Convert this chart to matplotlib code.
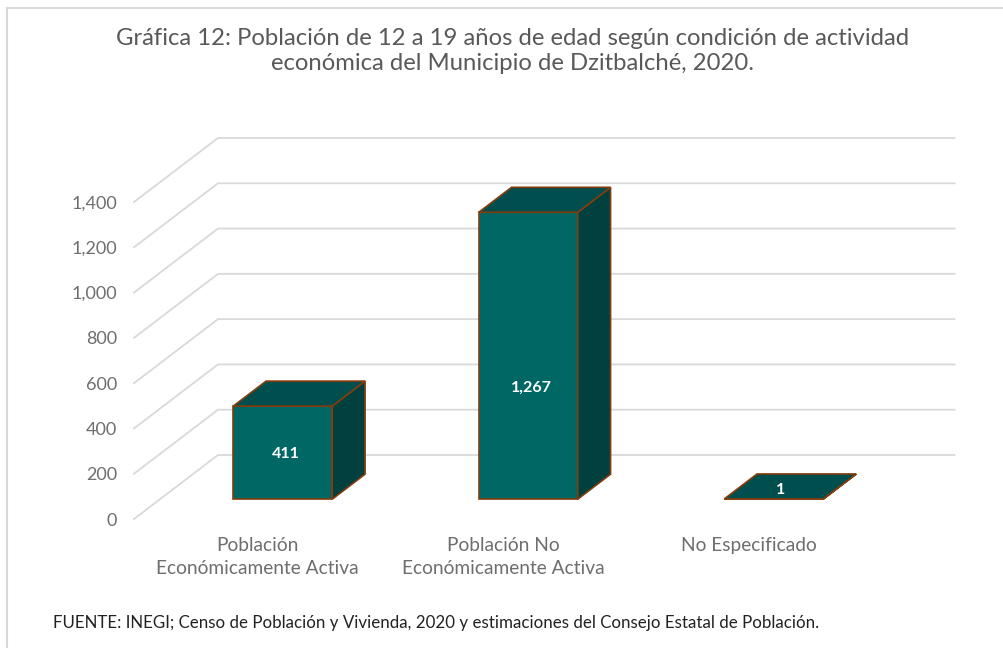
import matplotlib
matplotlib.use('Agg')
import matplotlib.pyplot as plt
from matplotlib.lines import Line2D
from matplotlib.patches import Polygon

plt.rcParams['font.family'] = ['Lato', 'DejaVu Sans']

# Data
categories = ['Población\nEconómicamente Activa', 'Población No\nEconómicamente Activa', 'No Especificado']
values = [411, 1267, 1]
value_labels = ['411', '1,267', '1']
yticks = [0, 200, 400, 600, 800, 1000, 1200, 1400]
ytick_labels = ['0', '200', '400', '600', '800', '1,000', '1,200', '1,400']
title = 'Gráfica 12: Población de 12 a 19 años de edad según condición de actividad\neconómica del Municipio de Dzitbalché, 2020.'
source = 'FUENTE: INEGI; Censo de Población y Vivienda, 2020 y estimaciones del Consejo Estatal de Población.'

W, H = 1004, 648
FRONT = '#006764'
TOP = '#004f4e'
SIDE = '#00403f'
EDGE = '#843c0c'
GRID = '#d9d9d9'
TEXT = '#595959'
TEXT_LIGHT = '#6e6e6e'

# 3d look: depth goes to the right and up
DEPTH_X = 84 / 245.5  # category units
DEPTH_Y = 64 / 0.2264  # value units
BAR_WIDTH = 99 / 245.5
D0, D1 = 0.31, 0.70
LABEL_HEIGHT = [0.48, 0.387, 0]  # where the label sits on each bar


def proj(x, v, d):
    return x + d * DEPTH_X, v + d * DEPTH_Y


def face(ax, pts, color):
    ax.add_patch(Polygon(pts, closed=True, facecolor=color, edgecolor=EDGE,
                         linewidth=1.2, clip_on=False, joinstyle='miter', zorder=3))


fig = plt.figure(figsize=(W / 100, H / 100), dpi=100)
ax = fig.add_axes([134 / W, 1 - 519 / H, 736.5 / W, 317 / H])
ax.set_xlim(0, 3)
ax.set_ylim(0, 1400)
ax.axis('off')

# frame only shows on the top and left
fig.add_artist(Line2D([7.5 / W, 7.5 / W, 1], [0, 1 - 7.5 / H, 1 - 7.5 / H], transform=fig.transFigure,
                      color=GRID, lw=1.5, solid_joinstyle='miter'))

# wall and floor grid
for t, lab in zip(yticks, ytick_labels):
    bx, by = proj(0, t, 1)
    ex, ey = proj(3, t, 1)
    ax.plot([0, bx, ex], [t, by, ey], color=GRID, lw=1.3, clip_on=False, zorder=1,
            solid_joinstyle='miter')
    ax.annotate(lab, (0, t), xytext=(-17, -1.5), textcoords='offset pixels', ha='right', va='center',
                fontsize=13, color=TEXT_LIGHT, annotation_clip=False)

for i, (v, lab) in enumerate(zip(values, value_labels)):
    x0 = i + 0.5 - BAR_WIDTH / 2
    x1 = i + 0.5 + BAR_WIDTH / 2
    a = proj(x0, 0, D0)
    b = proj(x1, 0, D0)
    c = proj(x1, v, D0)
    d = proj(x0, v, D0)
    b2 = proj(x1, 0, D1)
    c2 = proj(x1, v, D1)
    d2 = proj(x0, v, D1)
    face(ax, [a, b, c, d], FRONT)
    face(ax, [b, b2, c2, c], SIDE)
    face(ax, [d, c, c2, d2], TOP)
    if v < 50:
        lx, ly = proj(i + 0.5, v, (D0 + D1) / 2)
        off = (-10, -4)
    else:
        lx, ly = proj(i + 0.5, v * LABEL_HEIGHT[i], D0)
        off = (3, 0)
    ax.annotate(lab, (lx, ly), xytext=off, textcoords='offset pixels', color='white', fontsize=11.5,
                fontweight='bold', ha='center', va='center', zorder=5)
    ax.annotate(categories[i], (i + 0.5, 0), xytext=(1, -18), textcoords='offset pixels', ha='center', va='top',
                fontsize=13.8, color=TEXT_LIGHT, linespacing=1.4, annotation_clip=False)

fig.text(513 / W, 1 - 51 / H, title, ha='center', va='center', fontsize=17.2, color=TEXT, linespacing=1.25)
fig.text(53 / W, 1 - 623 / H, source, ha='left', va='center', fontsize=12.2, color='#222222')

fig.savefig('out.png', dpi=100)
